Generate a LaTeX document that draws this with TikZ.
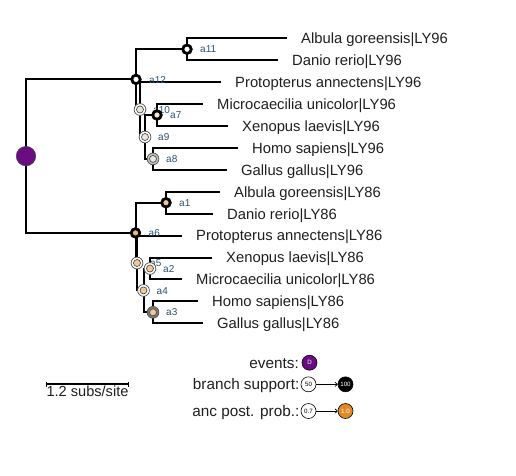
\documentclass[tikz,border=0pt]{standalone}
\usepackage{fontspec}
\setmainfont{Liberation Sans}
\usetikzlibrary{arrows.meta}
\definecolor{evpurple}{HTML}{6A0D83}
\definecolor{lblblue}{HTML}{2A5070}
\definecolor{orng}{HTML}{E08A26}
\definecolor{peachA}{HTML}{F3C798}
\definecolor{peachB}{HTML}{F0B878}
\definecolor{paleA}{HTML}{ECE6DD}
\definecolor{paleB}{HTML}{F6E7D4}
\definecolor{ringgray}{HTML}{505050}
\definecolor{bandA}{HTML}{C4C4C4}
\definecolor{bandB}{HTML}{7A7A7A}
\newcommand\ancring[4]{%
  \node[circle, inner sep=0pt, minimum size=11.8pt, fill=#3, draw=ringgray, line width=0.7pt] (#1) at (#2) {};
  \node[circle, inner sep=0pt, minimum size=7pt, fill=#4, draw=ringgray, line width=0.7pt] (#1i) at (#2) {};}
\newcommand\ancblack[3]{%
  \node[circle, inner sep=0pt, minimum size=10.8pt, fill=black, draw=black, line width=0.6pt] (#1) at (#2) {};
  \node[circle, inner sep=0pt, minimum size=5.2pt, fill=#3] (#1i) at (#2) {};}
\begin{document}
\begin{tikzpicture}[x=1pt,y=-1pt,
  br/.style={line width=2pt, black},
  leaf/.style={anchor=base west, inner sep=0pt, xshift=14pt, yshift=-5.3pt, font=\fontsize{14.8}{16}\selectfont, text=black!88},
  lab/.style={anchor=base west, inner sep=0pt, xshift=13pt, yshift=-3.6pt, font=\fontsize{10}{11}\selectfont, text=lblblue},
  legtxt/.style={anchor=base east, inner sep=0pt, font=\fontsize{15.3}{16}\selectfont, text=black!88},
  legdot/.style={circle, inner sep=0pt, minimum size=15pt, line width=0.6pt, draw=black, font=\fontsize{6.2}{6}\selectfont},
  ]
\useasboundingbox (0,0) rectangle (516,475);

% internal nodes
\coordinate (R) at (26,156.1);
\coordinate (a12) at (136,79.4);
\coordinate (a11) at (187,49.25);
\coordinate (a10) at (140,109.5);
\coordinate (a9) at (145,137);
\coordinate (a7) at (157,115);
\coordinate (a8) at (153,158.9);
\coordinate (a6) at (135.5,232.9);
\coordinate (a1) at (166,202.7);
\coordinate (a5) at (137,263);
\coordinate (a4) at (143.5,290.4);
\coordinate (a2) at (150,268.5);
\coordinate (a3) at (153,312.3);

% leaf ends
\coordinate (l1) at (287,38.3);
\coordinate (l2) at (278,60.2);
\coordinate (l3) at (221,82.1);
\coordinate (l4) at (203,104.1);
\coordinate (l5) at (228,126.0);
\coordinate (l6) at (238,147.9);
\coordinate (l7) at (227,169.8);
\coordinate (l8) at (220,191.7);
\coordinate (l9) at (213,213.7);
\coordinate (l10) at (182,235.6);
\coordinate (l11) at (212,257.5);
\coordinate (l12) at (182,279.4);
\coordinate (l13) at (198,301.3);
\coordinate (l14) at (203,323.3);

% branches
\draw[br] (R) |- (a12);
\draw[br] (R) |- (a6);
\draw[br] (a12) |- (a11);
\draw[br] (a12) |- (a10);
\draw[br] (a11) |- (l1);
\draw[br] (a11) |- (l2);
\draw[br] (a10) |- (l3);
\draw[br] (a10) |- (a9);
\draw[br] (a9) |- (a7);
\draw[br] (a9) |- (a8);
\draw[br] (a7) |- (l4);
\draw[br] (a7) |- (l5);
\draw[br] (a8) |- (l6);
\draw[br] (a8) |- (l7);
\draw[br] (a6) |- (a1);
\draw[br] (a6) |- (a5);
\draw[br] (a1) |- (l8);
\draw[br] (a1) |- (l9);
\draw[br] (a5) |- (l10);
\draw[br] (a5) |- (a4);
\draw[br] (a4) |- (a2);
\draw[br] (a4) |- (a3);
\draw[br] (a2) |- (l11);
\draw[br] (a2) |- (l12);
\draw[br] (a3) |- (l13);
\draw[br] (a3) |- (l14);

% leaf names
\node[leaf] (t1) at (l1) {Albula goreensis|LY96};
\node[leaf] (t2) at (l2) {Danio rerio|LY96};
\node[leaf] (t3) at (l3) {Protopterus annectens|LY96};
\node[leaf] (t4) at (l4) {Microcaecilia unicolor|LY96};
\node[leaf] (t5) at (l5) {Xenopus laevis|LY96};
\node[leaf] (t6) at (l6) {Homo sapiens|LY96};
\node[leaf] (t7) at (l7) {Gallus gallus|LY96};
\node[leaf] (t8) at (l8) {Albula goreensis|LY86};
\node[leaf] (t9) at (l9) {Danio rerio|LY86};
\node[leaf] (t10) at (l10) {Protopterus annectens|LY86};
\node[leaf] (t11) at (l11) {Xenopus laevis|LY86};
\node[leaf] (t12) at (l12) {Microcaecilia unicolor|LY86};
\node[leaf] (t13) at (l13) {Homo sapiens|LY86};
\node[leaf] (t14) at (l14) {Gallus gallus|LY86};

% node labels
\node[lab] (la12) at (a12) {a12};
\node[lab] (la11) at (a11) {a11};
\node[lab] (la10) at (a10) {a10};
\node[lab] (la9) at (a9) {a9};
\node[lab] (la7) at (a7) {a7};
\node[lab] (la8) at (a8) {a8};
\node[lab] (la6) at (a6) {a6};
\node[lab] (la1) at (a1) {a1};
\node[lab] (la5) at (a5) {a5};
\node[lab] (la4) at (a4) {a4};
\node[lab] (la2) at (a2) {a2};
\node[lab] (la3) at (a3) {a3};

% node markers
\node[circle, inner sep=0pt, minimum size=19.5pt, fill=evpurple, draw=black!75, line width=0.5pt] (nR) at (R) {};
\ancblack{n12}{a12}{white}
\ancblack{n11}{a11}{white}
\ancring{n10}{a10}{white}{paleA}
\ancring{n9}{a9}{white}{paleA}
\ancring{n8}{a8}{bandA}{paleA}
\ancblack{n7}{a7}{paleB}
\ancblack{n6}{a6}{peachB}
\ancblack{n1}{a1}{peachA}
\ancring{n5}{a5}{white}{peachA}
\ancring{n4}{a4}{white}{peachA}
\ancring{n2}{a2}{white}{peachA}
\ancring{n3}{a3}{bandB}{peachA}

% legend
\node[legtxt] (lev) at (299,368) {events:};
\node[legdot, fill=evpurple, text=white] (dD) at (309.5,362.7) {D};
\node[legtxt] (lbs) at (299.5,389.6) {branch support:};
\node[legdot, fill=white] (d50) at (308.5,384.3) {50};
\node[legdot, fill=black, text=white] (d100) at (345.5,384.3) {100};
\draw[-{To[length=3pt,width=5pt]}, line width=0.7pt] (d50) -- (d100);
\node[legtxt] (lap) at (299.5,416.3) {anc post. prob.:};
\node[legdot, fill=white] (d07) at (308.5,411) {0.7};
\node[legdot, fill=orng, text=white] (d10) at (345.5,411) {1.0};
\draw[-{To[length=3pt,width=5pt]}, line width=0.7pt] (d07) -- (d10);

% scale bar
\coordinate (sb1) at (46.5,384);
\coordinate (sb2) at (128,384);
\draw[line width=1.2pt] (sb1) -- (sb2);
\draw[line width=1pt] ([yshift=2.5pt]sb1) -- ([yshift=-2.5pt]sb1);
\draw[line width=1pt] ([yshift=2.5pt]sb2) -- ([yshift=-2.5pt]sb2);
\node[anchor=base, inner sep=0pt, font=\fontsize{14.6}{16}\selectfont, text=black!88] (sbt) at (87.5,396.5) {1.2 subs/site};
\end{tikzpicture}
\end{document}
